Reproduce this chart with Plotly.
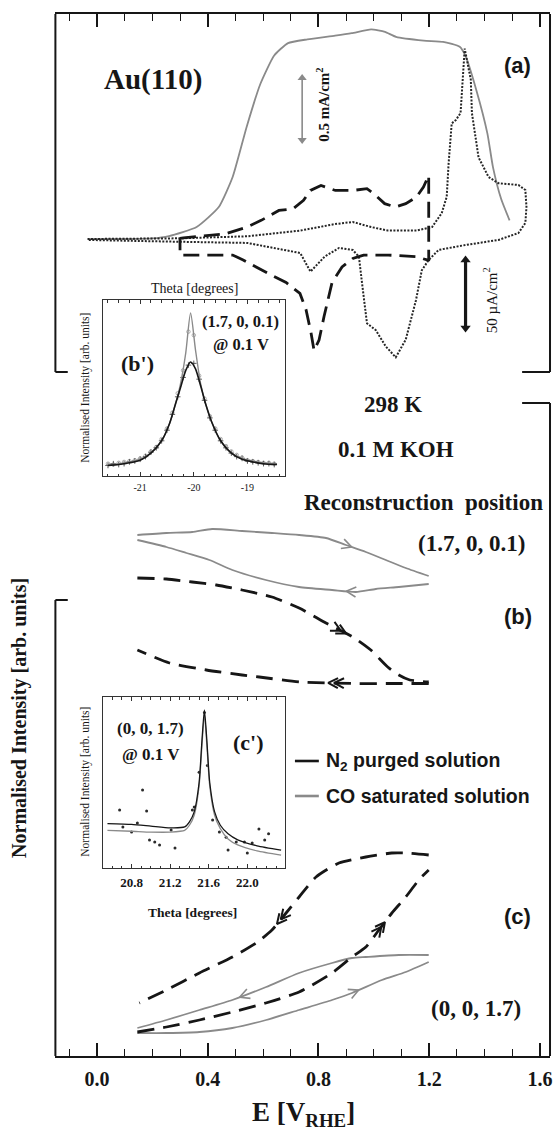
import math
import plotly.graph_objects as go

W, H = 555, 1135
INK = "#161616"
GREY = "#8a8a8a"
SERIF = "Liberation Serif, Times New Roman, serif"
SANS = "Liberation Sans, Arial, sans-serif"

# ---------------- (a) cyclic voltammograms ----------------
# CO saturated solution, current density in mA/cm^2 (grey solid)
cv_co_E = [-0.03, 0.10, 0.20, 0.26, 0.36, 0.44, 0.49, 0.54, 0.59, 0.64, 0.69, 0.76,
           0.86, 0.92, 0.99, 1.04, 1.08, 1.18, 1.25, 1.31, 1.33, 1.37, 1.41, 1.43, 1.46, 1.49]
cv_co_j = [0.0, 0.0, 0.005, 0.024, 0.097, 0.258, 0.50, 0.90, 1.25, 1.48, 1.58, 1.61,
           1.64, 1.66, 1.69, 1.67, 1.63, 1.60, 1.59, 1.55, 1.48, 1.20, 0.85, 0.58, 0.32, 0.15]

# N2 purged solution, 0.3 - 1.2 V, current density in uA/cm^2 (dashed)
cv_n2_E = [0.30, 0.312, 0.465, 0.542, 0.593, 0.657, 0.708, 0.746, 0.771, 0.809, 0.861, 0.924,
           0.975, 1.0, 1.039, 1.077, 1.115, 1.154, 1.179, 1.198, 1.198, 1.192, 1.154, 1.052,
           0.963, 0.924, 0.885, 0.849, 0.82, 0.802, 0.784, 0.773, 0.755, 0.733, 0.683, 0.618,
           0.528, 0.49, 0.30, 0.30]
cv_n2_i = [0.5, 0.9, 3.8, 8.8, 13.7, 21.0, 22.2, 28.4, 35.7, 39.4, 35.7, 35.7,
           37.0, 33.3, 26.0, 23.5, 26.0, 30.9, 38.2, 46.8, -15.4, -15.4, -13.0, -11.8,
           -11.8, -14.3, -20.6, -32.0, -57.0, -74.3, -82.0, -69.0, -52.0, -40.0, -32.0, -25.3,
           -15.4, -11.8, -11.8, 0.5]

# wide potential window scan, current density in uA/cm^2 (dotted)
cv_wide_E = [-0.034, 0.10, 0.30, 0.543, 0.734, 0.86, 0.924, 0.99, 1.05, 1.154, 1.21, 1.245,
             1.263, 1.27, 1.281, 1.296, 1.313, 1.328, 1.35, 1.354, 1.378, 1.414, 1.45, 1.522,
             1.547, 1.551, 1.547, 1.522, 1.45, 1.331, 1.234, 1.198, 1.173, 1.152, 1.115, 1.079,
             1.043, 1.007, 0.975, 0.957, 0.946, 0.924, 0.874, 0.822, 0.771, 0.734, 0.543, 0.287,
             -0.034]
cv_wide_i = [0.0, 0.3, 0.5, 2.0, 6.2, 11.0, 12.5, 8.8, 6.2, 6.2, 8.8, 19.0,
             31.0, 56.0, 85.0, 87.5, 92.6, 140.0, 117.0, 92.6, 60.0, 45.6, 41.0, 39.7,
             36.0, 23.5, 11.8, 4.4, -0.7, -4.4, -8.0, -15.4, -23.0, -45.0, -74.0, -87.0,
             -79.0, -67.0, -62.0, -32.0, -13.0, -8.1, -6.6, -13.0, -24.0, -10.3, -2.9, -2.0,
             -0.7]

scale_co = 0.5    # mA/cm^2 scale bar
scale_n2 = 50.0   # uA/cm^2 scale bar

# ---------------- (b) reconstruction position (1.7, 0, 0.1) ----------------
b_co_fwd_E = [0.146, 0.251, 0.344, 0.416, 0.524, 0.632, 0.73, 0.827, 0.899, 0.971, 1.043, 1.115, 1.198]
b_co_fwd_I = [1.65, 1.67, 1.68, 1.71, 1.69, 1.67, 1.65, 1.62, 1.55, 1.48, 1.40, 1.32, 1.24]
b_co_rev_E = [1.198, 1.09, 1.007, 0.935, 0.849, 0.73, 0.61, 0.489, 0.406, 0.323, 0.251, 0.146]
b_co_rev_I = [1.16, 1.13, 1.11, 1.08, 1.10, 1.13, 1.20, 1.30, 1.40, 1.47, 1.53, 1.60]
b_n2_fwd_E = [0.146, 0.251, 0.344, 0.431, 0.524, 0.632, 0.73, 0.827, 0.924, 0.989, 1.05, 1.09, 1.13, 1.198]
b_n2_fwd_I = [1.22, 1.21, 1.18, 1.15, 1.10, 1.03, 0.92, 0.77, 0.63, 0.50, 0.33, 0.25, 0.20, 0.18]
b_n2_rev_E = [1.198, 1.05, 0.924, 0.733, 0.586, 0.524, 0.395, 0.262, 0.146]
b_n2_rev_I = [0.165, 0.165, 0.165, 0.18, 0.23, 0.25, 0.30, 0.37, 0.50]

# ---------------- (c) specular position (0, 0, 1.7) ----------------
c_n2_fwd_E = [0.146, 0.251, 0.37, 0.489, 0.61, 0.73, 0.849, 0.921, 0.971, 1.018, 1.065, 1.115, 1.162, 1.198]
c_n2_fwd_I = [0.24, 0.29, 0.36, 0.44, 0.53, 0.64, 0.83, 0.99, 1.09, 1.26, 1.43, 1.59, 1.76, 1.86]
c_n2_rev_E = [1.198, 1.115, 1.065, 0.971, 0.874, 0.791, 0.73, 0.683, 0.632, 0.575, 0.489, 0.37, 0.251, 0.153]
c_n2_rev_I = [2.01, 2.03, 2.03, 1.99, 1.93, 1.79, 1.59, 1.43, 1.26, 1.13, 0.99, 0.83, 0.66, 0.53]
c_co_rev_E = [1.198, 1.09, 0.971, 0.921, 0.849, 0.73, 0.611, 0.489, 0.37, 0.251, 0.146]
c_co_rev_I = [1.01, 1.01, 0.99, 0.98, 0.93, 0.83, 0.69, 0.56, 0.46, 0.36, 0.28]
c_co_fwd_E = [0.146, 0.251, 0.37, 0.489, 0.611, 0.73, 0.849, 0.921, 1.029, 1.115, 1.198]
c_co_fwd_I = [0.23, 0.23, 0.24, 0.28, 0.36, 0.46, 0.56, 0.63, 0.76, 0.84, 0.94]

# ---------------- (b') rocking scan at (1.7, 0, 0.1), 0.1 V ----------------
bp_fit_theta = [-21.6, -21.4, -21.2, -21.0, -20.8, -20.6, -20.45, -20.35, -20.25, -20.15, -20.06,
                -19.97, -19.87, -19.77, -19.67, -19.5, -19.3, -19.1, -18.9, -18.7, -18.45]
bp_fit_n2 = [0.06, 0.065, 0.075, 0.09, 0.13, 0.20, 0.30, 0.40, 0.50, 0.60, 0.648,
             0.61, 0.51, 0.40, 0.31, 0.20, 0.13, 0.095, 0.08, 0.07, 0.065]
bp_fit_co = [0.065, 0.07, 0.08, 0.095, 0.13, 0.20, 0.30, 0.40, 0.52, 0.70, 0.926,
             0.72, 0.52, 0.40, 0.31, 0.20, 0.13, 0.10, 0.085, 0.075, 0.07]
bp_pts_theta = [-21.6, -21.5, -21.4, -21.3, -21.2, -21.1, -21.0, -20.9, -20.8, -20.7, -20.6, -20.5,
                -20.4, -20.3, -20.2, -20.1, -20.0, -19.9, -19.8, -19.7, -19.6, -19.5, -19.4, -19.3,
                -19.2, -19.1, -19.0, -18.9, -18.8, -18.7, -18.6, -18.5]
bp_pts_n2 = [0.06, 0.07, 0.065, 0.07, 0.08, 0.085, 0.095, 0.11, 0.135, 0.16, 0.20, 0.26,
             0.35, 0.45, 0.56, 0.63, 0.64, 0.55, 0.43, 0.33, 0.26, 0.20, 0.16, 0.13,
             0.11, 0.10, 0.085, 0.08, 0.075, 0.07, 0.07, 0.065]
bp_pts_co = [0.07, 0.065, 0.075, 0.08, 0.085, 0.09, 0.10, 0.115, 0.14, 0.165, 0.21, 0.27,
             0.36, 0.47, 0.60, 0.82, 0.80, 0.57, 0.44, 0.34, 0.27, 0.21, 0.17, 0.14,
             0.12, 0.105, 0.09, 0.085, 0.08, 0.075, 0.075, 0.07]
bp_ticks = [-21, -20, -19]
bp_ticktext = ["-21", "-20", "-19"]

# ---------------- (c') rocking scan at (0, 0, 1.7), 0.1 V ----------------
cp_fit_theta = [20.55, 20.8, 21.0, 21.2, 21.35, 21.4, 21.45, 21.5, 21.53, 21.555, 21.58,
                21.61, 21.66, 21.72, 21.8, 21.9, 22.1, 22.35]
cp_fit_n2 = [0.26, 0.255, 0.245, 0.235, 0.24, 0.27, 0.33, 0.50, 0.75, 0.924, 0.75,
             0.50, 0.33, 0.25, 0.20, 0.165, 0.13, 0.105]
cp_fit_co = [0.22, 0.215, 0.21, 0.21, 0.22, 0.25, 0.31, 0.48, 0.72, 0.90, 0.72,
             0.48, 0.31, 0.23, 0.17, 0.135, 0.10, 0.075]
cp_pts_theta = [20.676, 20.914, 20.956, 20.71, 20.8, 20.86, 20.986, 21.04, 21.09, 21.21, 21.25,
                21.43, 21.45, 21.5, 21.555, 21.586, 21.64, 21.71, 21.78, 21.8, 21.885, 21.97,
                22.0, 22.05, 22.12, 22.18, 22.22]
cp_pts_I = [0.339, 0.456, 0.333, 0.24, 0.21, 0.263, 0.164, 0.152, 0.135, 0.222, 0.117,
            0.339, 0.357, 0.56, 0.91, 0.60, 0.28, 0.21, 0.18, 0.105, 0.152, 0.152,
            0.088, 0.146, 0.228, 0.164, 0.20]
cp_ticks = [20.8, 21.2, 21.6, 22.0]
cp_ticktext = ["20.8", "21.2", "21.6", "22.0"]

# ---------------- main potential axis ----------------
E_ticks = [0.0, 0.4, 0.8, 1.2, 1.6]
E_ticktext = ["0.0", "0.4", "0.8", "1.2", "1.6"]

# ---------------- page geometry (pixels) ----------------
FX0, FX1 = 55.6, 552.0
E_RANGE = [-0.15, 1.636]
A_TOP, A_BOT = 14.0, 372.0
A_ZERO, A_MA, A_UA = 239.0, 124.0, 1.36      # baseline row, px per mA, px per uA
B_TOP, B_BOT = 403.0, 700.0
C_TOP, C_BOT = 700.0, 1056.0
BC_LEFT_TOP = 600.0
ROW_PX = 100.0                                # px per intensity unit in (b), (c)
INS_X0, INS_X1 = 103.0, 286.0
BP_TOP, BP_BOT = 300.0, 476.0
CP_TOP, CP_BOT = 697.0, 868.0


def fx(x):
    return x / W


def fy(y):
    return 1 - y / H


SX = (FX1 - FX0) / (E_RANGE[1] - E_RANGE[0])

fig = go.Figure()


def line(xs, ys, xa, ya, color=INK, width=2.6, dash="solid", shape="spline", smooth=0.6):
    ln = dict(color=color, width=width, dash=dash, shape=shape)
    if shape == "spline":
        ln["smoothing"] = smooth
    fig.add_trace(go.Scatter(x=xs, y=ys, xaxis=xa, yaxis=ya, mode="lines",
                             line=ln, hoverinfo="skip", showlegend=False))


def chevron(xs, ys, x_at, sy, count=1, size=11.0, half=27.0, gap=6.0):
    """Open arrow head(s) sitting on a branch at potential x_at, pointing along the scan."""
    for k in range(len(xs) - 1):
        a, b = xs[k], xs[k + 1]
        if a != b and min(a, b) <= x_at <= max(a, b):
            t = (x_at - a) / (b - a)
            tx = a + t * (b - a)
            ty = ys[k] + t * (ys[k + 1] - ys[k])
            ux, uy = (b - a) * SX, (ys[k + 1] - ys[k]) * sy
            break
    n = math.hypot(ux, uy)
    ux, uy = ux / n, uy / n
    ox, oy = [], []
    for c in range(count):
        cx = tx - c * gap * ux / SX
        cy = ty - c * gap * uy / sy
        wings = []
        for s in (1, -1):
            ang = math.radians(half) * s
            wx = -ux * math.cos(ang) + uy * math.sin(ang)
            wy = -ux * math.sin(ang) - uy * math.cos(ang)
            wings.append((cx + size * wx / SX, cy + size * wy / sy))
        ox += [wings[0][0], cx, wings[1][0], None]
        oy += [wings[0][1], cy, wings[1][1], None]
    return ox, oy


# ---- (a) ----
line(cv_co_E, cv_co_j, "x2", "y2", color=GREY, width=1.8, smooth=0.5)
line(cv_wide_E, cv_wide_i, "x2", "y3", color="#262626", width=2.0, dash="2px,1.5px", shape="linear")
line(cv_n2_E, cv_n2_i, "x2", "y3", color=INK, width=2.8, dash="16px,8px", shape="linear")

# scale bars: double-headed vertical arrows
bar_co_E, bar_co_lo = 0.741, 0.798
bar_n2_E, bar_n2_lo = 1.331, -65.4
for bx, lo, span, ya, col, wd, hs in [(bar_co_E, bar_co_lo, scale_co, "y2", GREY, 1.6, 8),
                                      (bar_n2_E, bar_n2_lo, scale_n2, "y3", INK, 3.2, 9)]:
    fig.add_trace(go.Scatter(x=[bx, bx], y=[lo, lo + span], xaxis="x2", yaxis=ya,
                             mode="lines+markers", line=dict(color=col, width=wd),
                             marker=dict(symbol=["triangle-down", "triangle-up"], size=hs, color=col,
                                         line=dict(width=0)),
                             hoverinfo="skip", showlegend=False))

# ---- (b) ----
line(b_co_fwd_E, b_co_fwd_I, "x", "y4", color=GREY, width=1.8)
line(b_co_rev_E, b_co_rev_I, "x", "y4", color=GREY, width=1.8)
line(b_n2_fwd_E, b_n2_fwd_I, "x", "y4", width=2.8, dash="17px,9px")
line(b_n2_rev_E, b_n2_rev_I, "x", "y4", width=2.8, dash="17px,9px")

# ---- (c) ----
line(c_co_fwd_E, c_co_fwd_I, "x", "y", color=GREY, width=1.8)
line(c_co_rev_E, c_co_rev_I, "x", "y", color=GREY, width=1.8)
line(c_n2_fwd_E, c_n2_fwd_I, "x", "y", width=2.8, dash="17px,9px")
line(c_n2_rev_E, c_n2_rev_I, "x", "y", width=2.8, dash="17px,9px")

# scan direction arrows
arrow_specs = [
    (b_co_fwd_E, b_co_fwd_I, 0.92, "y4", GREY, 1),
    (b_co_rev_E, b_co_rev_I, 0.90, "y4", GREY, 1),
    (b_n2_fwd_E, b_n2_fwd_I, 0.90, "y4", INK, 2),
    (b_n2_rev_E, b_n2_rev_I, 0.835, "y4", INK, 2),
    (c_n2_fwd_E, c_n2_fwd_I, 1.04, "y", INK, 2),
    (c_n2_rev_E, c_n2_rev_I, 0.65, "y", INK, 2),
    (c_co_rev_E, c_co_rev_I, 0.515, "y", GREY, 1),
    (c_co_fwd_E, c_co_fwd_I, 0.945, "y", GREY, 1),
]
for xs, ys, at, ya, col, cnt in arrow_specs:
    ax_, ay_ = chevron(xs, ys, at, ROW_PX, count=cnt)
    fig.add_trace(go.Scatter(x=ax_, y=ay_, xaxis="x", yaxis=ya, mode="lines",
                             line=dict(color=col, width=2.0 if col == INK else 1.6),
                             hoverinfo="skip", showlegend=False))

# ---- (b') ----
fig.add_trace(go.Scatter(x=bp_pts_theta, y=bp_pts_co, xaxis="x5", yaxis="y5", mode="markers",
                         marker=dict(symbol="circle-open", size=3.5, color="#9a9a9a", line=dict(width=0.8)),
                         hoverinfo="skip", showlegend=False))
fig.add_trace(go.Scatter(x=bp_pts_theta, y=bp_pts_n2, xaxis="x5", yaxis="y5", mode="markers",
                         marker=dict(symbol="cross-thin-open", size=4, color="#333", line=dict(width=0.8)),
                         hoverinfo="skip", showlegend=False))
line(bp_fit_theta, bp_fit_co, "x5", "y5", color=GREY, width=1.4, smooth=0.7)
line(bp_fit_theta, bp_fit_n2, "x5", "y5", color=INK, width=1.6, smooth=0.7)

# ---- (c') ----
fig.add_trace(go.Scatter(x=cp_pts_theta, y=cp_pts_I, xaxis="x6", yaxis="y6", mode="markers",
                         marker=dict(symbol="circle", size=3, color="#2a2a2a"),
                         hoverinfo="skip", showlegend=False))
line(cp_fit_theta, cp_fit_co, "x6", "y6", color=GREY, width=1.3, smooth=0.6)
line(cp_fit_theta, cp_fit_n2, "x6", "y6", color=INK, width=1.3, smooth=0.6)

# ---------------- text ----------------
ann = []


def note(text, x, y, size, family=SERIF, bold=True, angle=0, color=INK, xanchor="center"):
    ann.append(dict(text=text, x=fx(x), y=fy(y), xref="paper", yref="paper", showarrow=False,
                    font=dict(family=family, size=size, color=color, weight="bold" if bold else "normal"),
                    textangle=angle, xanchor=xanchor, yanchor="middle"))


note("Au(110)", 154, 80, 29)
note("(a)", 519.5, 65, 22, family=SANS)
note("(b)", 519.5, 616, 22, family=SANS)
note("(c)", 519.5, 916, 22, family=SANS)
note("0.5 mA/cm<sup>2</sup>", 324, 105, 15, angle=-90)
note("50 \u00b5A/cm<sup>2</sup>", 492, 300, 15, bold=False, angle=-90)
note("298 K", 394, 404, 23)
note("0.1 M KOH", 397, 450, 23)
note("Reconstruction  position", 425, 502, 23)
note("(1.7, 0, 0.1)", 473, 543, 23)
note("(0, 0, 1.7)", 478, 1008, 23)
note("Theta [degrees]", 195, 288, 14, bold=False)
note("Theta [degrees]", 193, 912, 13.5)
note("(b')", 138, 363, 22)
note("(1.7, 0, 0.1)", 241.5, 322, 16.5)
note("@ 0.1 V", 242, 344, 16.5)
note("(0, 0, 1.7)", 151.5, 728, 17)
note("@ 0.1 V", 152, 754, 17)
note("(c')", 249.6, 742, 22)
note("Normalised Intensity [arb. units]", 85, 388, 11.5, bold=False, angle=-90)
note("Normalised Intensity [arb. units]", 85, 782, 11.5, bold=False, angle=-90)
note("Normalised Intensity [arb. units]", 19, 718, 20, angle=-90)
note("E [V<sub>RHE</sub>]", 305, 1114, 27)
note("N<sub>2</sub> purged solution", 325, 761, 19.5, family=SANS, xanchor="left")
note("CO saturated solution", 325, 796, 19.5, family=SANS, xanchor="left")

# ---------------- frame pieces and legend keys ----------------
shapes = []


def seg(x0, y0, x1, y1, color=INK, width=2.0):
    shapes.append(dict(type="line", xref="paper", yref="paper", x0=fx(x0), y0=fy(y0),
                       x1=fx(x1), y1=fy(y1), line=dict(color=color, width=width)))


seg(FX0, A_TOP, FX0, A_BOT)
seg(FX0, A_BOT, 68, A_BOT)
seg(FX1, A_TOP, FX1, A_BOT)
seg(524, A_BOT, FX1, A_BOT)
seg(FX0, BC_LEFT_TOP, FX0, C_BOT)
seg(FX0, BC_LEFT_TOP, 68, BC_LEFT_TOP)
seg(FX1, B_TOP, FX1, C_BOT)
seg(524, B_TOP, FX1, B_TOP)
seg(296, 761, 320, 761, INK, 2.6)
seg(296, 796, 320, 796, GREY, 2.6)

# ---------------- axes ----------------
hidden = dict(visible=False, showgrid=False, zeroline=False, fixedrange=True)
E_axis = dict(domain=[fx(FX0), fx(FX1)], range=E_RANGE, showline=True, linecolor=INK, linewidth=2,
              ticks="inside", ticklen=13, tickwidth=1.6, tickcolor=INK, showgrid=False,
              zeroline=False, tickvals=E_ticks, ticktext=E_ticktext,
              minor=dict(dtick=0.1, tick0=0, ticks="inside", ticklen=7, tickwidth=1.4, tickcolor=INK))


def inset_x(dom_range, rng, tv, tt, size, bold, minor_dtick, anchor):
    return dict(domain=dom_range, range=rng, anchor=anchor, showline=True, linecolor="#333",
                linewidth=1, mirror="allticks", ticks="inside", ticklen=4, tickwidth=1,
                tickcolor="#333", tickvals=tv, ticktext=tt, showgrid=False, zeroline=False,
                tickfont=dict(family=SERIF, size=size, color=INK, weight="bold" if bold else "normal"),
                ticklabelstandoff=2,
                minor=dict(dtick=minor_dtick, tick0=0, ticks="inside", ticklen=2.5, tickwidth=1,
                           tickcolor="#333"))


def inset_y(top, bot, anchor):
    return dict(domain=[fy(bot), fy(top)], range=[0, 1], anchor=anchor, showline=True,
                linecolor="#333", linewidth=1, mirror=True, ticks="", showticklabels=False,
                showgrid=False, zeroline=False)


fig.update_layout(
    width=W, height=H, margin=dict(l=0, r=0, t=0, b=0),
    paper_bgcolor="white", plot_bgcolor="rgba(0,0,0,0)", showlegend=False,
    font=dict(family=SERIF, color=INK),
    xaxis=dict(E_axis, anchor="y", side="bottom",
               tickfont=dict(family=SERIF, size=20, color=INK, weight="bold"), ticklabelstandoff=4),
    xaxis2=dict(E_axis, anchor="y2", side="top", showticklabels=False),
    yaxis=dict(hidden, domain=[fy(C_BOT), fy(C_TOP)], range=[0, (C_BOT - C_TOP) / ROW_PX]),
    yaxis2=dict(hidden, domain=[fy(A_BOT), fy(A_TOP)],
                range=[(A_ZERO - A_BOT) / A_MA, (A_ZERO - A_TOP) / A_MA]),
    yaxis3=dict(hidden, overlaying="y2", domain=[fy(A_BOT), fy(A_TOP)],
                range=[(A_ZERO - A_BOT) / A_UA, (A_ZERO - A_TOP) / A_UA]),
    yaxis4=dict(hidden, domain=[fy(B_BOT), fy(B_TOP)], range=[0, (B_BOT - B_TOP) / ROW_PX]),
    xaxis5=inset_x([fx(INS_X0), fx(INS_X1)], [-21.7, -18.3], bp_ticks, bp_ticktext, 10, False, 0.2, "y5"),
    yaxis5=inset_y(BP_TOP, BP_BOT, "x5"),
    xaxis6=inset_x([fx(INS_X0), fx(INS_X1)], [20.5, 22.39], cp_ticks, cp_ticktext, 13, True, 0.1, "y6"),
    yaxis6=inset_y(CP_TOP, CP_BOT, "x6"),
    annotations=ann,
    shapes=shapes,
)

fig.write_html("out.html")
